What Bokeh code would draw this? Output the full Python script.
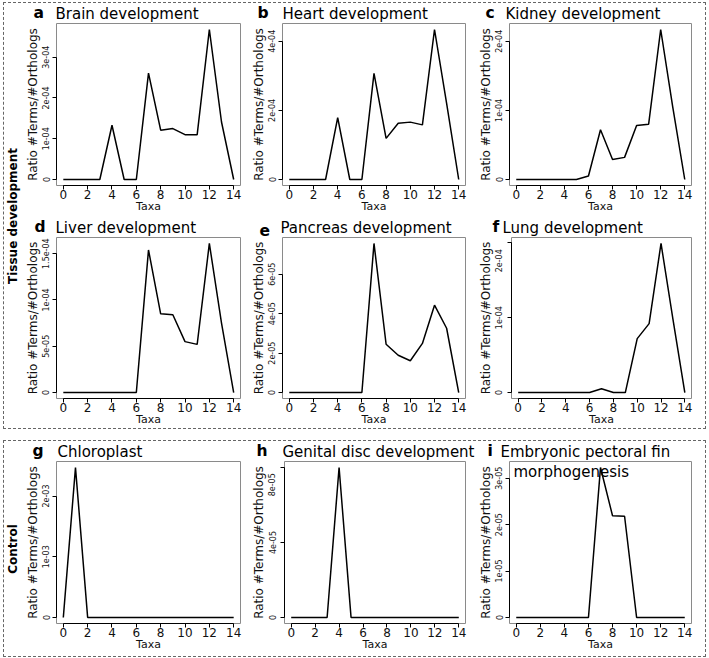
import math
from bokeh.plotting import figure
from bokeh.models import Range1d, FixedTicker, CustomJSTickFormatter, Label, Spacer
from bokeh.layouts import row, column
from bokeh.embed import file_html
from bokeh.resources import INLINE

# ---------------- data ----------------
taxa = list(range(15))
x_ticks = [0, 2, 4, 6, 8, 10, 12, 14]

brain = [0, 0, 0, 0, 1.33e-4, 0, 0, 2.61e-4, 1.21e-4, 1.25e-4, 1.10e-4, 1.10e-4, 3.68e-4, 1.41e-4, 0]
heart = [0, 0, 0, 0, 1.79e-4, 0, 0, 3.07e-4, 1.19e-4, 1.63e-4, 1.66e-4, 1.58e-4, 4.34e-4, 2.2e-4, 0]
kidney = [0, 0, 0, 0, 0, 0, 0.05e-4, 0.72e-4, 0.29e-4, 0.32e-4, 0.78e-4, 0.80e-4, 2.17e-4, 1.05e-4, 0]
liver = [0, 0, 0, 0, 0, 0, 0, 1.54e-4, 0.85e-4, 0.84e-4, 0.55e-4, 0.52e-4, 1.61e-4, 0.75e-4, 0]
pancreas = [0, 0, 0, 0, 0, 0, 0, 7.56e-5, 2.45e-5, 1.89e-5, 1.61e-5, 2.49e-5, 4.43e-5, 3.26e-5, 0]
lung = [0, 0, 0, 0, 0, 0, 0, 0.05e-4, 0, 0, 0.72e-4, 0.92e-4, 1.99e-4, 0.98e-4, 0]
chloroplast = [0, 2.47e-3, 0, 0, 0, 0, 0, 0, 0, 0, 0, 0, 0, 0, 0]
genital = [0, 0, 0, 0, 8.0e-5, 0, 0, 0, 0, 0, 0, 0, 0, 0, 0]
fin = [0, 0, 0, 0, 0, 0, 0, 3.23e-5, 2.19e-5, 2.18e-5, 0, 0, 0, 0, 0]

brain_ticks = [0, 1e-4, 2e-4, 3e-4]
heart_ticks = [0, 2e-4, 4e-4]
kidney_ticks = [0, 1e-4, 2e-4]
liver_ticks = [0, 5e-5, 1e-4, 1.5e-4]
pancreas_ticks = [0, 2e-5, 4e-5, 6e-5]
lung_ticks = [0, 1e-4, 2e-4]
chloroplast_ticks = [0, 1e-3, 2e-3]
genital_ticks = [0, 4e-5, 8e-5]
fin_ticks = [0, 1e-5, 2e-5, 3e-5]

letters = ["a", "b", "c", "d", "e", "f", "g", "h", "i"]
titles = [["Brain development"], ["Heart development"], ["Kidney development"],
          ["Liver development"], ["Pancreas development"], ["Lung development"],
          ["Chloroplast"], ["Genital disc development"],
          ["Embryonic pectoral fin", "morphogenesis"]]
group_labels = ["Tissue development", "Control"]
y_label = "Ratio #Terms/#Orthologs"
x_label = "Taxa"

series = [brain, heart, kidney, liver, pancreas, lung, chloroplast, genital, fin]
ticks = [brain_ticks, heart_ticks, kidney_ticks, liver_ticks, pancreas_ticks,
         lung_ticks, chloroplast_ticks, genital_ticks, fin_ticks]

# ---------------- layout / style ----------------
FONT = "DejaVu Sans"
col_w = [226, 227, 230]
col_br = [8, 10, 14]
BL = 34
BT = 1
strip_h = [19, 19, 19]
panel_h = [195, 192, 196]
panel_bb = [32, 29, 33]
title_dx = [-1, 0, -4, -1, -2, -7, 1, 0, -9]
letter_dx = [-23, -25, -24, -22, -23, -17, -24, -26, -22]
top_label_pad = [0, 0, 0, 0, 0, 5, 0, 5, 0]

fmt_code = """
if (tick == 0) { return "0"; }
const s = tick.toExponential();
const parts = s.split("e");
const sign = parts[1][0] == "-" ? "-" : "+";
let d = parts[1].replace("-", "").replace("+", "");
if (d.length < 2) { d = "0" + d; }
let out = parts[0] + "e" + sign + d;
if (index == ticks.length - 1 && pad > 0) { out = out + "\\u00a0".repeat(pad); }
return out;
"""


def blank_fig(w, h):
    f = figure(width=w, height=h, toolbar_location=None, output_backend="svg",
               title=None, x_axis_location=None, y_axis_location=None,
               x_range=Range1d(0, 1), y_range=Range1d(0, 1), min_border=0)
    f.outline_line_color = None
    f.grid.visible = False
    f.border_fill_color = "white"
    f.background_fill_color = "white"
    return f


def title_strip(r):
    f = blank_fig(sum(col_w), strip_h[r])
    for c in range(3):
        k = 3 * r + c
        fl = sum(col_w[:c]) + BL
        f.add_layout(Label(x=fl + letter_dx[k], y=0.5, x_units="screen", y_units="screen",
                           text=letters[k], text_font=FONT, text_font_style="bold",
                           text_font_size="15.5px", text_color="black",
                           text_align="left", text_baseline="bottom"))
        f.add_layout(Label(x=fl + title_dx[k], y=0, x_units="screen", y_units="screen",
                           text=titles[k][0], text_font=FONT, text_font_size="15px",
                           text_color="black", text_align="left", text_baseline="bottom"))
    return f


def make_panel(k):
    c = k % 3
    r = k // 3
    h = panel_h[r]
    bb = panel_bb[r]
    vals = series[k]
    ymax = max(vals)
    p = figure(width=col_w[c], height=h, toolbar_location=None, output_backend="svg",
               title=None,
               x_range=Range1d(-0.04 * 14, 14 * 1.04),
               y_range=Range1d(-0.04 * ymax, 1.04 * ymax),
               min_border_left=BL, min_border_right=col_br[c],
               min_border_top=BT, min_border_bottom=bb)
    p.background_fill_color = "white"
    p.border_fill_color = "white"
    p.outline_line_color = "#8a8a8a"
    p.outline_line_width = 1
    p.xgrid.visible = False
    p.ygrid.visible = False

    p.line(taxa, vals, line_color="black", line_width=1.5)

    p.xaxis.ticker = FixedTicker(ticks=x_ticks)
    p.xaxis.bounds = (0, 14)
    p.yaxis.ticker = FixedTicker(ticks=ticks[k])
    p.yaxis.bounds = (0, ticks[k][-1])
    p.yaxis.formatter = CustomJSTickFormatter(args={"pad": top_label_pad[k]}, code=fmt_code)
    p.yaxis.major_label_orientation = "parallel"
    for ax in p.axis:
        ax.axis_line_color = "black"
        ax.major_tick_line_color = "black"
        ax.minor_tick_line_color = None
        ax.major_tick_out = 4
        ax.major_tick_in = 0
        ax.major_label_text_color = "#111111"
        ax.major_label_text_font = FONT
        ax.axis_label_text_color = "#111111"
        ax.axis_label_text_font = FONT
        ax.axis_label_text_font_style = "normal"
    p.xaxis.major_label_text_font_size = "12px"
    p.xaxis.major_label_standoff = 0
    p.xaxis.axis_label = x_label
    p.xaxis.axis_label_text_font_size = "11px"
    p.xaxis.axis_label_standoff = -2
    p.yaxis.major_label_text_font_size = "8px"
    p.yaxis.major_label_standoff = 3
    p.yaxis.axis_label = y_label
    p.yaxis.axis_label_text_font_size = "12px"
    p.yaxis.axis_label_standoff = 0

    fh = h - BT - bb
    if len(titles[k]) > 1:
        p.add_layout(Label(x=title_dx[k] + 13, y=fh - 15.7 - 3.5, x_units="screen", y_units="screen",
                           text=titles[k][1], text_font=FONT, text_font_size="15px",
                           text_color="black", text_align="left", text_baseline="bottom"))
    return p


def group_fig(text, h):
    f = blank_fig(18, h)
    f.add_layout(Label(x=15.3, y=h / 2, x_units="screen", y_units="screen", text=text,
                       angle=math.pi / 2, text_align="center", text_baseline="bottom",
                       text_font=FONT, text_font_style="bold", text_font_size="12px",
                       text_color="black"))
    return f


panels = [make_panel(k) for k in range(9)]

box_style = {"border": "1px dashed #666666"}
tissue_box = row(group_fig(group_labels[0], 425),
                 column(title_strip(0), row(*panels[0:3]),
                        title_strip(1), row(*panels[3:6])),
                 styles=box_style)
control_box = row(group_fig(group_labels[1], 215),
                  column(title_strip(2), row(*panels[6:9])),
                  styles=box_style)

root = column(tissue_box, Spacer(width=10, height=11), control_box,
              styles={"margin-left": "3px", "margin-top": "2px"})

open("out.html", "w").write(file_html(root, INLINE))
